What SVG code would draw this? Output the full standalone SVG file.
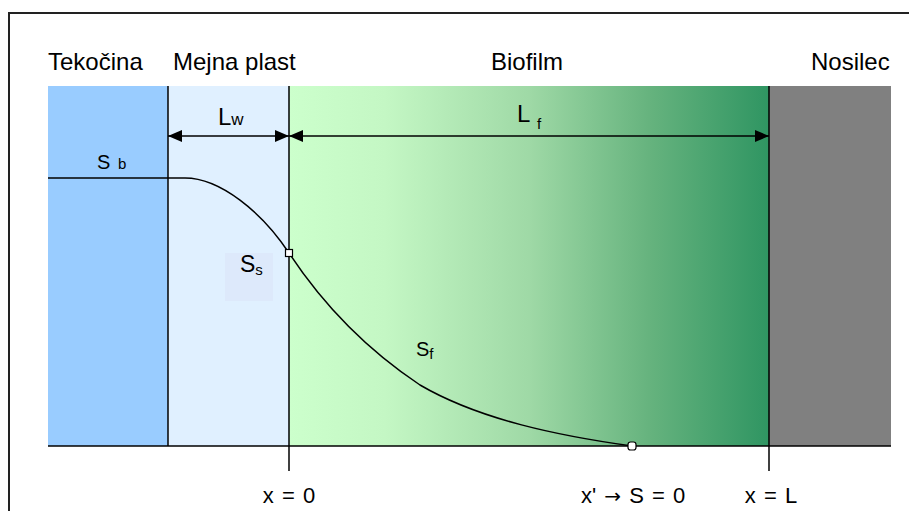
<svg xmlns="http://www.w3.org/2000/svg" width="909" height="511" viewBox="0 0 909 511">
<style>
.t{font-family:"Liberation Sans",Arial,sans-serif;fill:#000}
.h{font-size:24px}
.b{font-size:22px;word-spacing:2px}
.ln{stroke:#000;stroke-width:1.5;fill:none}
</style>
<defs>
<linearGradient id="bio" x1="0" y1="0" x2="1" y2="0">
<stop offset="0" stop-color="#ccffcc"/>
<stop offset="0.2" stop-color="#c4f7c4"/>
<stop offset="0.5" stop-color="#9fd9a6"/>
<stop offset="0.75" stop-color="#66b37e"/>
<stop offset="1" stop-color="#2f9562"/>
</linearGradient>
<marker id="ah" viewBox="0 0 14 12" refX="14" refY="6" markerWidth="14" markerHeight="12" markerUnits="userSpaceOnUse" orient="auto-start-reverse">
<path d="M0,0 L14,6 L0,12 Z" fill="#000"/>
</marker>
</defs>
<rect width="909" height="511" fill="#fff"/>
<rect x="9" y="13" width="960" height="560" fill="none" stroke="#222" stroke-width="2"/>
<g id="tekocina">
<rect x="48" y="86" width="120" height="360" fill="#99ccff"/>
<text class="t h" x="48" y="70">Tekočina</text>
</g>
<g id="mejna-plast">
<rect x="168" y="86" width="121" height="360" fill="#e0f0ff"/>
<text class="t h" x="173" y="70">Mejna plast</text>
<rect x="225" y="253" width="48" height="48" fill="#dde9fb"/>
</g>
<g id="biofilm">
<rect x="289" y="86" width="480" height="360" fill="url(#bio)"/>
<text class="t h" x="527" y="70" text-anchor="middle">Biofilm</text>
</g>
<g id="nosilec">
<rect x="769" y="86" width="122" height="360" fill="#808080"/>
<text class="t h" x="811" y="70">Nosilec</text>
</g>
<g id="connectors">
<line class="ln" x1="48" y1="446" x2="891" y2="446"/>
<line class="ln" x1="168" y1="86" x2="168" y2="446"/>
<line class="ln" x1="289" y1="86" x2="289" y2="471"/>
<line class="ln" x1="769" y1="86" x2="769" y2="471"/>
<line class="ln" x1="168" y1="136" x2="289" y2="136" marker-start="url(#ah)" marker-end="url(#ah)"/>
<line class="ln" x1="289" y1="136" x2="769" y2="136" marker-start="url(#ah)" marker-end="url(#ah)"/>
<path class="ln" stroke-width="1.3" stroke-linejoin="round" d="M48,178 L185,178 C220,178 262,212 289,253 C320,300 360,345 420,385 C480,420 560,436 632,446"/>
</g>
<g id="markers">
<rect x="285.5" y="249.5" width="7" height="7" fill="#fff" stroke="#000" stroke-width="1.2"/>
<rect x="628" y="442" width="8" height="8" rx="2.5" fill="#fff" stroke="#000" stroke-width="1.2"/>
</g>
<g id="labels">
<text class="t" font-size="24" x="218" y="125">L<tspan font-size="17">w</tspan></text>
<text class="t" font-size="24" x="517" y="122">L<tspan font-size="15" x="537" dy="7">f</tspan></text>
<text class="t" font-size="20" x="97" y="169">S<tspan font-size="15" x="118">b</tspan></text>
<text class="t" font-size="23" x="240" y="272">S<tspan font-size="15" dy="3">s</tspan></text>
<text class="t" font-size="20" x="416" y="356">S<tspan font-size="15" dy="3">f</tspan></text>
<text class="t b" x="289" y="503" text-anchor="middle">x = 0</text>
<text class="t b" x="581" y="503">x' <tspan font-family="DejaVu Sans" font-size="20">→</tspan> S = 0</text>
<text class="t b" x="771" y="503" text-anchor="middle">x = L</text>
</g>
</svg>
